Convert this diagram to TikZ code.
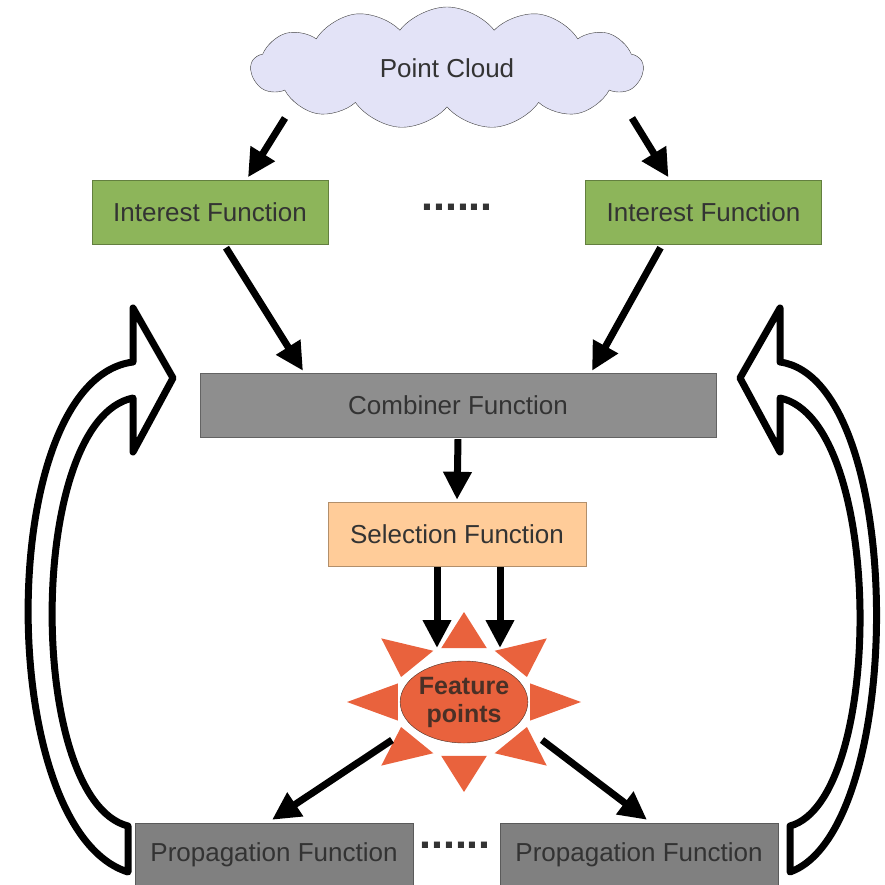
\documentclass[tikz,border=0pt]{standalone}
\usepackage{fontspec}
\setmainfont{Liberation Sans}
\usetikzlibrary{arrows.meta,shapes.symbols,shapes.geometric,calc}
\definecolor{cloudfill}{HTML}{E3E3F7}
\definecolor{interestgreen}{HTML}{8DB55A}
\definecolor{combinergray}{HTML}{8E8E8E}
\definecolor{propgray}{HTML}{808080}
\definecolor{selectorange}{HTML}{FFCC99}
\definecolor{sunred}{HTML}{E9623D}
\definecolor{textgray}{HTML}{333333}
\definecolor{sundark}{HTML}{4A3026}
\tikzset{
	func/.style={rectangle, draw=#1!70!black, fill=#1, text=textgray, font=\fontsize{26}{30}\selectfont, minimum height=64pt, inner sep=0pt},
	fatarrow/.style={line width=7pt, -{Triangle[length=28pt,width=27pt]}},
	hollow/.style={line width=7pt, fill=white, line join=round},
	dotrow/.style={font=\fontsize{43}{43}\selectfont\bfseries, text=textgray, anchor=base},
}
\begin{document}
\begin{tikzpicture}[x=1pt, y=-1pt]
	\useasboundingbox (0,0) rectangle (884,885);

	\node[cloud, cloud puffs=13, cloud puff arc=105, aspect=3.3, draw=darkgray, fill=cloudfill, minimum width=392pt, minimum height=122pt, text=textgray, font=\fontsize{26}{30}\selectfont] (cloud) at (447,68) {Point Cloud};
	\node[func=interestgreen, minimum width=236pt] (intL) at (210,212.5) {Interest Function};
	\node[func=interestgreen, minimum width=236pt] (intR) at (703.5,212.5) {Interest Function};
	\node[dotrow] (dotsTop) at (457,211) {......};
	\node[func=combinergray, minimum width=516pt] (comb) at (458,405) {Combiner Function};
	\node[func=selectorange, minimum width=258pt] (sel) at (457,534) {Selection Function};
	\node[func=propgray, minimum width=278pt] (propL) at (274,855) {Propagation Function};
	\node[func=propgray, minimum width=278pt] (propR) at (639,855) {Propagation Function};
	\node[dotrow] (dotsBot) at (455,848) {......};

	% sun with its rays
	\foreach \a in {0,45,...,315} {
		\fill[sunred] ($(464,702)+({117*cos(\a)},{-90*sin(\a)})$) -- ($(464,702)+({70*cos(\a+19)},{-57*sin(\a+19)})$) -- ($(464,702)+({70*cos(\a-19)},{-57*sin(\a-19)})$) -- cycle;
	}
	\node[ellipse, draw=sundark, fill=sunred, minimum width=110pt, minimum height=82pt, inner sep=0pt, align=center, text=sundark, font=\fontsize{25}{28}\selectfont\bfseries] (sun) at (464,702) {Feature\\points};

	% Draw the arrows between the functions
	\draw[fatarrow] ([xshift=-162pt,yshift=-50pt]cloud.center) -- ([xshift=38pt,yshift=3pt]intL.north);
	\draw[fatarrow] ([xshift=185pt,yshift=-50pt]cloud.center) -- ([xshift=-35pt,yshift=3pt]intR.north);
	\draw[fatarrow] ([xshift=16pt,yshift=-3pt]intL.south) -- ([xshift=-155pt,yshift=2pt]comb.north);
	\draw[fatarrow] ([xshift=-43pt,yshift=-3pt]intR.south) -- ([xshift=134pt,yshift=2pt]comb.north);
	\draw[fatarrow] ([yshift=-2pt]comb.south) -- ([yshift=2pt]sel.north);
	\draw[fatarrow] ([xshift=-20pt,yshift=-1pt]sel.south) -- ([xshift=-27pt,yshift=54pt]sun.center);
	\draw[fatarrow] ([xshift=43pt,yshift=-1pt]sel.south) -- ([xshift=36pt,yshift=54pt]sun.center);
	\draw[fatarrow] ([xshift=-72pt,yshift=-38pt]sun.center) -- ([xshift=-2pt,yshift=3pt]propL.north);
	\draw[fatarrow] ([xshift=78pt,yshift=-38pt]sun.center) -- ([xshift=8pt,yshift=3pt]propR.north);

	% feedback from propagation to combiner
	\draw[hollow] (128,826) .. controls (26,800) and (26,420) .. (133,398) -- (133,452) -- (173,378) -- (133,308) -- (133,362) .. controls (-6,380) and (-6,830) .. (128,872) -- cycle;
	\draw[hollow] (790,826) .. controls (885,800) and (885,420) .. (780,398) -- (780,452) -- (740,378) -- (780,308) -- (780,362) .. controls (907,380) and (907,830) .. (790,872) -- cycle;
\end{tikzpicture}
\end{document}
